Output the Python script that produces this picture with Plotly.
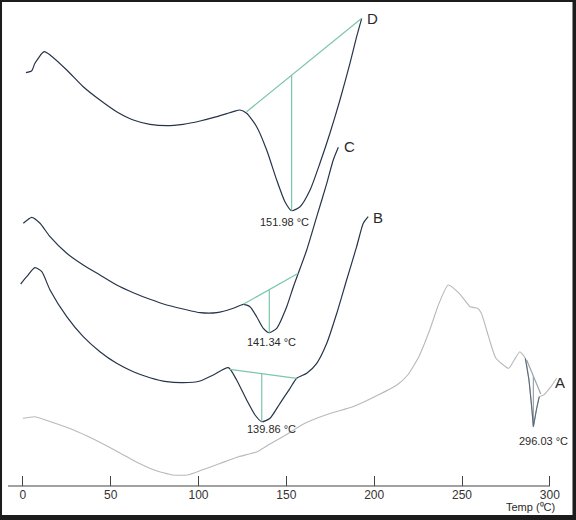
import numpy as np
import plotly.graph_objects as go

# DSC thermograms, signal in arbitrary units
temp_d = [1.8, 5.1, 6.9, 12.1, 15.5, 25.0, 34.4, 43.9, 53.4, 62.9, 72.4, 81.9, 91.3, 100.9,
          110.4, 119.8, 123.6, 127.4, 133.1, 138.8, 144.5, 149.2, 153.0, 157.8, 163.5, 169.1,
          174.8, 180.5, 186.2, 190.0, 192.9]
sig_d = [41.33, 41.53, 42.27, 43.43, 43.10, 41.60, 39.93, 38.60, 37.43, 36.60, 36.17, 36.03,
         36.17, 36.50, 36.93, 37.43, 37.60, 37.27, 35.93, 33.60, 30.60, 28.43, 27.53, 27.93,
         29.60, 32.27, 35.27, 38.60, 42.27, 44.93, 46.77]

temp_c = [0.3, 5.1, 9.8, 15.5, 25.0, 34.4, 43.9, 53.4, 62.9, 72.4, 81.9, 91.3, 100.9, 110.4,
          119.8, 125.5, 129.3, 133.1, 136.9, 140.3, 144.5, 150.2, 154.0, 156.8, 161.6, 167.3,
          173.0, 176.7, 179.6]
sig_c = [26.27, 26.87, 26.27, 24.93, 23.27, 22.10, 21.10, 20.10, 19.33, 18.67, 18.10, 17.70,
         17.33, 17.33, 17.77, 18.17, 17.93, 16.93, 15.77, 15.33, 15.77, 17.93, 19.93, 21.27,
         23.60, 26.93, 30.27, 32.60, 33.87]

temp_b = [-1.2, 2.2, 6.9, 10.8, 15.5, 25.0, 34.4, 43.9, 53.4, 62.9, 72.4, 81.9, 91.3, 100.9,
          108.4, 117.0, 121.7, 127.4, 132.2, 136.0, 140.7, 146.4, 152.1, 155.9, 161.6, 167.3,
          173.0, 178.7, 184.3, 190.0, 193.8, 196.6]
sig_b = [20.20, 20.93, 21.83, 21.43, 19.60, 16.93, 14.93, 13.43, 12.27, 11.43, 10.83, 10.43,
         10.33, 10.50, 11.10, 11.83, 10.60, 8.60, 7.10, 6.43, 6.77, 8.27, 9.77, 10.77, 11.27,
         12.27, 14.27, 17.27, 20.60, 23.93, 26.27, 26.93]

temp_a = [0.0, 6.9, 18.4, 28.9, 39.3, 54.0, 64.4, 74.8, 85.3, 93.7, 102.0, 112.5, 122.9, 133.4,
          139.7, 148.0, 160.6, 175.2, 187.8, 200.3, 212.9, 219.1, 225.4, 231.6, 236.9, 242.1,
          248.4, 254.6, 258.8, 261.0, 265.1, 269.3, 276.6, 279.7, 282.9, 286.0, 288.1, 289.8,
          290.6, 292.3, 294.0, 296.5, 300.6, 303.8]
sig_a = [6.77, 6.93, 6.27, 5.60, 4.77, 3.43, 2.43, 1.60, 1.10, 1.10, 1.60, 2.27, 2.93, 3.43,
         4.10, 4.93, 6.27, 7.27, 7.93, 8.93, 10.10, 11.10, 12.93, 15.60, 18.27, 20.10, 19.27,
         17.93, 17.77, 17.27, 14.93, 12.77, 11.77, 12.60, 13.43, 12.77, 10.60, 7.60, 5.93,
         7.60, 8.93, 9.10, 9.93, 10.77]

# integration baselines (start/end temp, start/end signal) and peak temps
base_d = ([127.4, 192.9], [37.43, 46.77])
base_c = ([125.5, 156.8], [18.17, 21.27])
base_b = ([117.9, 155.9], [11.67, 10.77])
base_a = ([286.8, 294.8], [12.6, 9.2])
peak_d, peak_c, peak_b, peak_a = 153.0, 140.3, 136.0, 290.6
peak_labels = ["151.98 °C", "141.34 °C", "139.86 °C", "296.03 °C"]
curve_names = ["D", "C", "B", "A"]
x_ticks = [0, 50, 100, 150, 200, 250, 300]

DARK = "#26344a"
GREEN = "#7cc6aa"
GREY = "#b9b9b9"
TXT = "#2a2a2a"
FONT = "Liberation Sans, Arial, sans-serif"

fig = go.Figure()

for t, s in [(temp_d, sig_d), (temp_c, sig_c), (temp_b, sig_b)]:
    fig.add_trace(go.Scatter(x=t, y=s, mode="lines", showlegend=False,
                             line=dict(color=DARK, width=1.2, shape="spline", smoothing=0.6)))
fig.add_trace(go.Scatter(x=temp_a, y=sig_a, mode="lines", showlegend=False,
                         line=dict(color=GREY, width=1.1, shape="spline", smoothing=0.5)))

# baselines + peak drop lines
for (bt, bs), pk, (t, s), col in [(base_d, peak_d, (temp_d, sig_d), GREEN),
                                  (base_c, peak_c, (temp_c, sig_c), GREEN),
                                  (base_b, peak_b, (temp_b, sig_b), GREEN),
                                  (base_a, peak_a, (temp_a, sig_a), "#9aa4ad")]:
    fig.add_trace(go.Scatter(x=bt, y=bs, mode="lines", showlegend=False,
                             line=dict(color=col, width=1.2)))
    top = float(np.interp(pk, bt, bs))
    bottom = float(np.interp(pk, t, s))
    fig.add_trace(go.Scatter(x=[pk, pk], y=[top, bottom], mode="lines", showlegend=False,
                             line=dict(color=col, width=1.2)))

# dark V of the sharp A endotherm
v_t = [t for t in temp_a if 286.0 <= t <= 294.0]
v_s = [s for t, s in zip(temp_a, sig_a) if 286.0 <= t <= 294.0]
fig.add_trace(go.Scatter(x=v_t, y=v_s, mode="lines", showlegend=False,
                         line=dict(color="#5a6878", width=1.1)))

# text labels
label_pos = [(149.2, 26.4), (141.3, 14.4), (141.3, 5.7), (296.1, 4.5)]
for (lx, ly), txt in zip(label_pos, peak_labels):
    fig.add_annotation(x=lx, y=ly, text=txt, showarrow=False, xanchor="center", yanchor="middle",
                       font=dict(size=11, color=TXT, family=FONT))
name_pos = [(198.8, 46.8), (186.2, 34.0), (202.2, 26.9), (305.8, 10.4)]
for (lx, ly), txt in zip(name_pos, curve_names):
    fig.add_annotation(x=lx, y=ly, text=txt, showarrow=False, xanchor="center", yanchor="middle",
                       font=dict(size=15, color=TXT, family=FONT))

fig.add_annotation(x=288.7, y=-0.043, yref="paper", text="Temp (⁰C)",
                   showarrow=False, xanchor="center", yanchor="middle",
                   font=dict(size=11, color=TXT, family=FONT))

# axis line and dark frame
FRAME = "#1c1c1c"
shapes = [
    dict(type="line", xref="x", yref="paper", x0=-8.4, x1=300, y0=0, y1=0,
         line=dict(color="#444", width=1.2)),
    dict(type="rect", xref="paper", yref="paper", x0=0, x1=1, y0=0.9959, y1=1.0,
         fillcolor=FRAME, line=dict(width=0)),
    dict(type="rect", xref="paper", yref="paper", x0=0, x1=1, y0=-0.0720, y1=-0.0597,
         fillcolor=FRAME, line=dict(width=0)),
    dict(type="rect", xref="paper", yref="paper", x0=0, x1=0.0035, y0=-0.072, y1=1.0,
         fillcolor=FRAME, line=dict(width=0)),
    dict(type="rect", xref="paper", yref="paper", x0=0.9939, x1=1.0, y0=-0.072, y1=1.0,
         fillcolor=FRAME, line=dict(width=0)),
]

fig.update_layout(
    width=576, height=520,
    margin=dict(l=0, r=0, t=0, b=34),
    paper_bgcolor="white", plot_bgcolor="white",
    shapes=shapes,
    xaxis=dict(range=[-12.98, 314.86], tickvals=x_ticks, ticks="inside", ticklen=10,
               tickwidth=1.2, tickcolor="#444", showgrid=False, zeroline=False,
               showline=False, tickfont=dict(size=12, color="#333", family=FONT)),
    yaxis=dict(range=[0, 48.6], visible=False),
)

fig.write_html("out.html", config={"displayModeBar": False},
               post_script="document.body.style.margin='0';")
